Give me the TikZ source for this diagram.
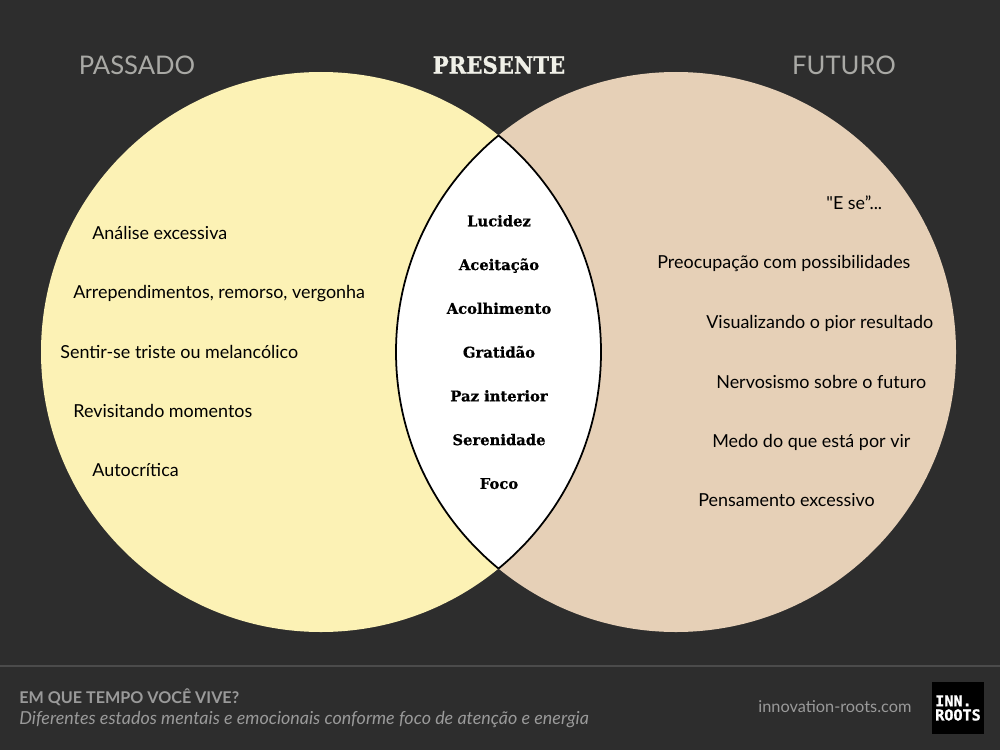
\documentclass[tikz,border=0pt]{standalone}
\usepackage{xcolor}
\usepackage{fontspec}
\setmainfont{Lato}
\newfontfamily\plainfont{Lato}
\newfontfamily\slabfont[BoldFeatures={FakeBold=0.7}]{DejaVu Serif}
\newfontfamily\titlefont[FakeStretch=0.9,BoldFeatures={FakeBold=0.9}]{DejaVu Serif}
\newfontfamily\logofont[FakeBold=1.2]{DejaVu Sans Mono}
\usetikzlibrary{positioning}
\definecolor{DarkBg}{HTML}{2D2D2D}
\definecolor{SoftYellow}{HTML}{FCF2B5}
\definecolor{SoftBrown}{HTML}{E6D0B7}
\definecolor{TitleGrey}{HTML}{A9A9A5}
\definecolor{TitleWhite}{HTML}{F0F0E8}
\definecolor{FootGrey}{HTML}{9A9A9A}
\definecolor{FootLine}{HTML}{4B4B4B}
\tikzset{
  head/.style={font=\fontsize{14.6}{18}\selectfont,text=TitleGrey,inner sep=0pt},
  feel/.style={font=\fontsize{10.2}{12}\selectfont,text=black,inner sep=0pt,anchor=base west},
  lens/.style={font=\slabfont\bfseries\fontsize{8.4}{12}\selectfont,text=black,inner sep=0pt,
               text height=8pt,text depth=2pt},
  foot/.style={text=FootGrey,inner sep=0pt,anchor=base west}
}
\begin{document}
\begin{tikzpicture}[x=0.02cm,y=-0.02cm,node distance=0.4cm]
  \useasboundingbox (0,0) rectangle (1000,750);
  \fill[DarkBg] (0,0) rectangle (1000,750);

  % circles
  \fill[SoftYellow] (321,352) circle[radius=280];
  \fill[SoftBrown] (676,352) circle[radius=280];
  \begin{scope}
    \clip (321,352) circle[radius=280];
    \fill[white] (676,352) circle[radius=280];
    \draw[black,line width=1pt] (676,352) circle[radius=280];
  \end{scope}
  \begin{scope}
    \clip (676,352) circle[radius=280];
    \draw[black,line width=1pt] (321,352) circle[radius=280];
  \end{scope}

  % titles
  \node[head] (past) at (137,65) {PASSADO};
  \node[head,font=\titlefont\bfseries\fontsize{13.4}{18}\selectfont,text=TitleWhite] (now) at (499,65) {PRESENTE};
  \node[head] (fut) at (844,65) {FUTURO};

  % left labels
  \node[feel] (p1) at (92,239.5) {Análise excessiva};
  \node[feel] (p2) at (73,298.5) {Arrependimentos, remorso, vergonha};
  \node[feel] (p3) at (60,358.5) {Sentir-se triste ou melancólico};
  \node[feel] (p4) at (73,417.5) {Revisitando momentos};
  \node[feel] (p5) at (92,476.5) {Autocrítica};

  % middle labels
  \node[lens] (m1) at (499,221) {Lucidez};
  \node[lens,below=0.51cm of m1] (m2) {Aceitação};
  \node[lens,below=0.51cm of m2] (m3) {Acolhimento};
  \node[lens,below=0.51cm of m3] (m4) {Gratidão};
  \node[lens,below=0.51cm of m4] (m5) {Paz interior};
  \node[lens,below=0.51cm of m5] (m6) {Serenidade};
  \node[lens,below=0.51cm of m6] (m7) {Foco};

  % right labels
  \node[feel] (f1) at (826,209.5) {{\plainfont"}E se”...};
  \node[feel] (f2) at (657,268.5) {Preocupação com possibilidades};
  \node[feel] (f3) at (706,328.5) {Visualizando o pior resultado};
  \node[feel] (f4) at (716,388) {Nervosismo sobre o futuro};
  \node[feel] (f5) at (712,447) {Medo do que está por vir};
  \node[feel] (f6) at (698,506.5) {Pensamento excessivo};

  % footer
  \draw[FootLine,line width=0.6pt] (0,666) -- (1000,666);
  \node[foot,font=\bfseries\fontsize{9.2}{10}\selectfont] (q) at (19,703) {EM QUE TEMPO VOCÊ VIVE?};
  \node[foot,font=\itshape\fontsize{10.2}{10}\selectfont] (sub) at (19,724) {Diferentes estados mentais e emocionais conforme foco de atenção e energia};
  \node[foot,font=\fontsize{9.3}{10}\selectfont] (web) at (758,712.5) {innovation-roots.com};
  \node[fill=black,text=white,minimum size=1.04cm,inner sep=0pt,align=left,
        font=\logofont\bfseries\fontsize{8.6}{8}\selectfont] (logo) at (958,708) {INN.\\ROOTS};
\end{tikzpicture}
\end{document}
